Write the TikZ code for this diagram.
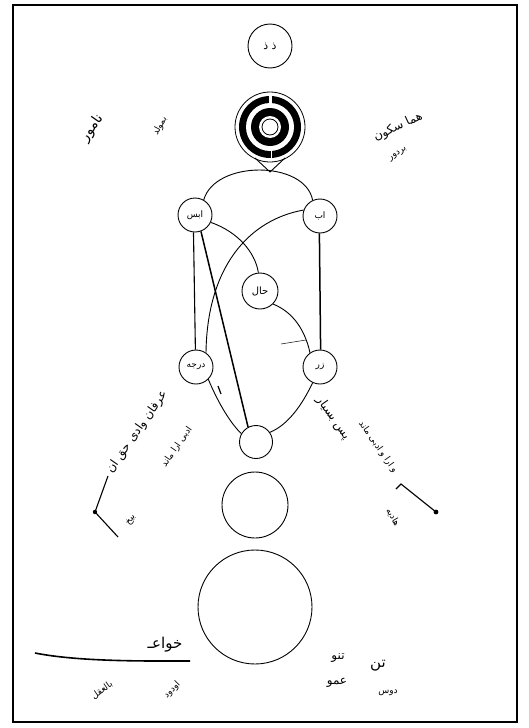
\documentclass[tikz,border=0pt]{standalone}
\usepackage{fontspec}
\newfontfamily\ar[Script=Arabic]{DejaVu Sans}
\TeXXeTstate=1
\newcommand{\AR}[1]{{\ar\beginR #1\endR}}
\begin{document}
\begin{tikzpicture}[x=1pt,y=-1pt,line width=0.9pt]
\tikzset{
  nd/.style={circle,draw,line width=0.9pt,minimum size=34pt,inner sep=0pt,font=\ar\fontsize{9}{9}\selectfont},
  plain/.style={circle,draw,line width=0.9pt,inner sep=0pt},
  hw/.style={font=\ar\fontsize{12}{12}\selectfont,inner sep=0pt},
  hws/.style={font=\ar\fontsize{9}{9}\selectfont,inner sep=0pt},
  thickln/.style={line width=1.5pt},
}
\useasboundingbox (0,0) rectangle (529,728);
\draw[line width=1.1pt] (13,5) rectangle (517,722);

% top circle
\node[nd,minimum size=44pt,font=\ar\fontsize{11}{11}\selectfont] (top) at (270,46) {\AR{ذ ذ}};

% target
\coordinate (tgt) at (270,127);
\draw[line width=0.8pt] (tgt) circle[radius=35pt];
\fill[black] (tgt) circle[radius=31pt];
\fill[white] (tgt) circle[radius=24pt];
\fill[black] (tgt) circle[radius=19pt];
\fill[white] (tgt) circle[radius=11pt];
\draw[line width=0.8pt] (tgt) circle[radius=8pt];
\fill[white] (268.5,96) rectangle (271.5,108);
\fill[white] (270.5,146) rectangle (272,158);

% V below target
\coordinate (vL) at (255,158);
\coordinate (vT) at (270,172);
\coordinate (vR) at (285,158);
\draw (vL) -- (vT) -- (vR);

% nodes
\node[nd] (as) at (195,215) {\AR{ابس}};
\node[nd] (ab) at (320,216) {\AR{اب}};
\node[nd,minimum size=36pt,font=\ar\fontsize{10}{10}\selectfont] (hal) at (260,291) {\AR{حال}};
\node[nd] (dr) at (196,367) {\AR{درجه}};
\node[nd] (zr) at (320,367) {\AR{زر}};
\node[plain,minimum size=33pt] (sm) at (256,442) {};
\node[plain,minimum size=66pt] (md) at (255,505) {};
\node[plain,minimum size=114pt] (lg) at (255,607) {};

% big arc
\draw (as.60) .. controls (215,160) and (305,160) .. (ab.115);

% straight connectors
\draw[line width=1.1pt] (as.265) -- (dr.92);
\draw[thickln] (as.290) -- (sm.118);
\draw[thickln] (ab.268) -- (zr.88);

% curves
\draw (as.-25) .. controls (238,232) and (255,252) .. (hal.95);
\draw (ab.160) .. controls (248,220) and (207,268) .. (dr.55);
\draw (dr.-45) .. controls (219,405) and (232,425) .. (sm.150);
\draw (zr.-115) .. controls (302,405) and (288,425) .. (sm.35);
\draw (hal.-45) .. controls (293,312) and (305,330) .. (zr.125);
\coordinate (tk1) at (281,344);
\coordinate (tk2) at (306,340);
\draw[line width=0.5pt] (tk1) -- (tk2);
\coordinate (ar1) at (218,386);
\coordinate (ar2) at (221,394);
\draw[line width=1.2pt] (ar1) -- (ar2);

% hooks
\coordinate (hA) at (108,476);
\coordinate (hB) at (95,512);
\coordinate (hC) at (118,537);
\draw[line width=1.1pt] (hA) -- (hB) -- (hC);
\fill (hB) circle[radius=2.2pt];
\coordinate (rA) at (401,484);
\coordinate (rB) at (436,512);
\coordinate (rC) at (396,489);
\draw[line width=1.1pt] (rC) -- (rA) -- (rB);
\fill (rB) circle[radius=2.4pt];

% bottom left stroke
\coordinate (bl1) at (35,653);
\coordinate (bl2) at (190,661);
\draw[line width=1.6pt] (bl1) .. controls (80,662) and (150,661) .. (bl2);

% texts
\node[hw,rotate=55,font=\ar\fontsize{14}{14}\selectfont] (t1) at (92,128) {\AR{نامور}};
\node[hws,rotate=62] (t2) at (160,126) {\AR{بمولد}};
\node[hw,rotate=25] (t3) at (398,127) {\AR{هما سکون}};
\node[hws,rotate=35] (t4) at (398,154) {\AR{بردور}};

\node[hw,rotate=55] (t5) at (137,432) {\AR{عرفان وادی حق ان}};
\node[hws,rotate=55] (t6) at (177,447) {\AR{ادبی ارا ماند}};
\node[hws,rotate=55] (t7) at (131,520) {\AR{بیخ}};

\node[hw,rotate=-55] (t8) at (333,418) {\AR{پس بسیار}};
\node[hws,rotate=-55] (t9) at (378,447) {\AR{و ارا و ادبی ماند}};
\node[hws,rotate=-60] (t10) at (393,517) {\AR{هادیه}};

\node[hw,font=\ar\fontsize{15}{15}\selectfont] (t11) at (165,645) {\AR{خواعـ}};
\node[hws,rotate=35] (t12) at (102,690) {\AR{بالعقل}};
\node[hws,rotate=45] (t13) at (172,690) {\AR{اودود}};

\node[hw] (t14) at (338,658) {\AR{تنو}};
\node[hw] (t15) at (337,683) {\AR{عمو}};
\node[hw,font=\ar\fontsize{15}{15}\selectfont] (t16) at (378,666) {\AR{تن}};
\node[hws] (t17) at (388,693) {\AR{دوس}};
\end{tikzpicture}
\end{document}
